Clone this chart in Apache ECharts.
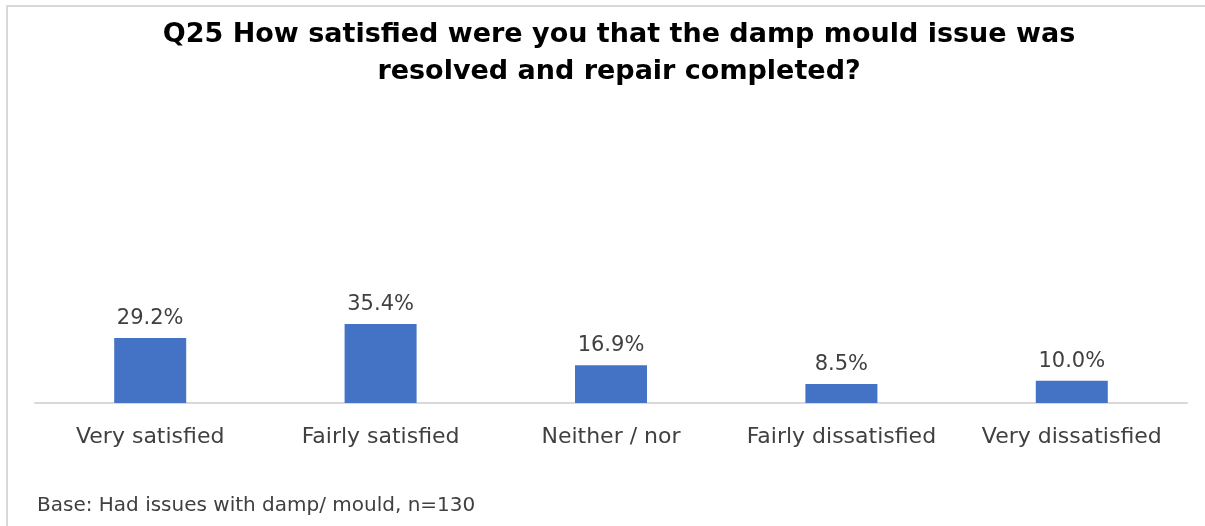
<!DOCTYPE html>
<html>
<head>
<meta charset="utf-8">
<script src="https://cdn.jsdelivr.net/npm/echarts@6/dist/echarts.min.js"></script>
<style>
  html, body { margin: 0; padding: 0; background: #fff; }
  #main { width: 1205px; height: 526px; }
</style>
</head>
<body>
<div id="main"></div>
<script>
const categories = ['Very satisfied', 'Fairly satisfied', 'Neither / nor', 'Fairly dissatisfied', 'Very dissatisfied'];
const percentages = [29.2, 35.4, 16.9, 8.5, 10.0];
const titleText = 'Q25 How satisfied were you that the damp mould issue was\nresolved and repair completed?';
const baseNote = 'Base: Had issues with damp/ mould, n=130';

const chart = echarts.init(document.getElementById('main'));

const option = {
  backgroundColor: '#fff',
  animation: false,
  title: {
    text: titleText,
    left: 614,
    top: 11,
    textAlign: 'center',
    textStyle: {
      fontFamily: 'DejaVu Sans',
      fontWeight: 'bold',
      fontSize: 27,
      lineHeight: 37,
      color: '#000'
    }
  },
  grid: {
    left: 35,
    right: 18,
    top: 180,
    bottom: 123
  },
  xAxis: {
    type: 'category',
    data: categories,
    axisLine: { lineStyle: { color: '#d9d9d9', width: 2 } },
    axisTick: { show: false },
    axisLabel: {
      interval: 0,
      fontFamily: 'DejaVu Sans',
      fontSize: 22,
      color: '#404040',
      margin: 23
    }
  },
  yAxis: {
    type: 'value',
    min: 0,
    max: 100,
    show: false,
    splitLine: { show: false }
  },
  series: [
    {
      type: 'bar',
      data: percentages,
      barWidth: 72,
      itemStyle: { color: '#4472c4' },
      label: {
        show: true,
        position: 'top',
        distance: 9,
        fontFamily: 'DejaVu Sans',
        fontSize: 21,
        color: '#404040',
        formatter: p => p.value.toFixed(1) + '%'
      }
    }
  ],
  graphic: [
    {
      type: 'polyline',
      shape: { points: [[7, 526], [7, 6], [1205, 6]] },
      style: { stroke: '#d9d9d9', lineWidth: 2, fill: null },
      silent: true
    },
    {
      type: 'text',
      left: 37,
      top: 496,
      style: {
        text: baseNote,
        fontFamily: 'DejaVu Sans',
        fontSize: 20,
        fill: '#404040'
      }
    }
  ]
};

chart.setOption(option);
</script>
</body>
</html>
